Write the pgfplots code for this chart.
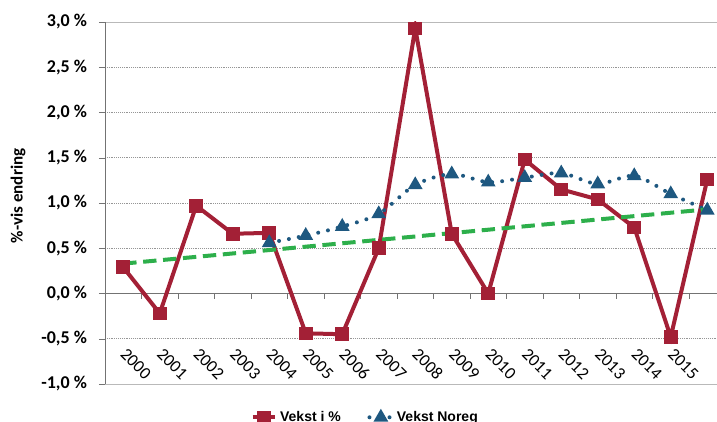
\documentclass[border=0pt]{standalone}
\usepackage{pgfplots}
\pgfplotsset{compat=1.18}
\usepackage{fontspec}
\setmainfont{Carlito}
\newfontfamily\legfont{Liberation Sans}
\begin{document}
\begin{tikzpicture}[x=0.75pt,y=0.75pt]
\definecolor{vekstRed}{RGB}{163,32,54}
\definecolor{noregBlue}{RGB}{30,88,128}
\definecolor{trendGreen}{RGB}{45,175,75}
\definecolor{gridGray}{RGB}{150,150,150}
\definecolor{frameGray}{RGB}{185,185,185}
\useasboundingbox (0,0) rectangle (717,421);
\begin{axis}[
    at={(78.75pt,27.75pt)}, anchor=south west,
    scale only axis,
    width=465.375pt, height=271.5pt,
    xmin=-0.5, xmax=16.5,
    ymin=-1, ymax=3,
    axis y line*=left,
    axis line style={frameGray},
    y axis line style={draw=gray!90!black},
    ytick={-1,-0.5,...,3},
    ytick pos=left,
    tick align=outside,
    ytick style={gray!90!black},
    major tick length=4.5pt,
    ymajorgrids,
    grid style={gridGray, densely dotted, line width=0.5pt},
    /pgf/number format/assume math mode=true,
    yticklabel={\pgfmathprintnumber[fixed,fixed zerofill,precision=1,use comma]{\tick}~\%},
    yticklabel style={font=\bfseries\fontsize{13.5}{15}\selectfont, xshift=-5.5pt},
    xtick={0,...,15},
    xticklabels={2000,2001,2002,2003,2004,2005,2006,2007,2008,2009,2010,2011,2012,2013,2014,2015},
    xtick style={draw=none},
    xticklabel style={yshift=29pt, anchor=west, rotate=-45, font=\fontsize{13}{15}\selectfont, inner sep=0pt},
    ylabel={\%-vis endring},
    ylabel style={at={(axis description cs:-0.140,0.52)}, anchor=center, rotate=0, font=\bfseries\fontsize{12.75}{14}\selectfont},
    legend style={at={(axis description cs:0.42,-0.092)}, anchor=center, draw=none, fill=none,
        legend columns=2, font=\legfont\bfseries\fontsize{10.5}{12}\selectfont,
        /tikz/every even column/.append style={column sep=18pt}},
    legend cell align=left,
]
% x axis at zero with category ticks
\draw[gray!90!black, line width=0.6pt] (axis cs:-0.5,0) -- (axis cs:16.5,0);
\pgfplotsinvokeforeach{0.5,1.5,2.5,3.5,4.5,5.5,6.5,7.5,8.5,9.5,10.5,11.5,12.5,13.5,14.5,15.5,16.5}{
  \draw[gray!90!black, line width=0.6pt] (axis cs:#1,0) -- (axis cs:#1,-0.065);
}

\addplot[vekstRed, line width=3pt, mark=square*, mark size=3.6pt, mark options={solid}] coordinates {
    (0,0.29) (1,-0.22) (2,0.97) (3,0.66) (4,0.67) (5,-0.44) (6,-0.45) (7,0.50)
    (8,2.93) (9,0.66) (10,0.00) (11,1.48) (12,1.15) (13,1.04) (14,0.73) (15,-0.48) (16,1.26)
};
\addlegendentry{Vekst i \%}

\addplot[noregBlue, line width=3pt, smooth, line cap=round, dash pattern=on 0pt off 7.5pt,
    mark=triangle*, mark size=3.4pt, mark options={solid}] coordinates {
    (4,0.56) (5,0.64) (6,0.74) (7,0.88) (8,1.20) (9,1.32) (10,1.23) (11,1.28)
    (12,1.33) (13,1.21) (14,1.30) (15,1.10) (16,0.92)
};
\addlegendentry{Vekst Noreg}

\addplot[trendGreen, line width=3pt, dash pattern=on 10pt off 5pt, forget plot] coordinates {
    (0,0.33) (16,0.93)
};
\end{axis}
\end{tikzpicture}
\end{document}
